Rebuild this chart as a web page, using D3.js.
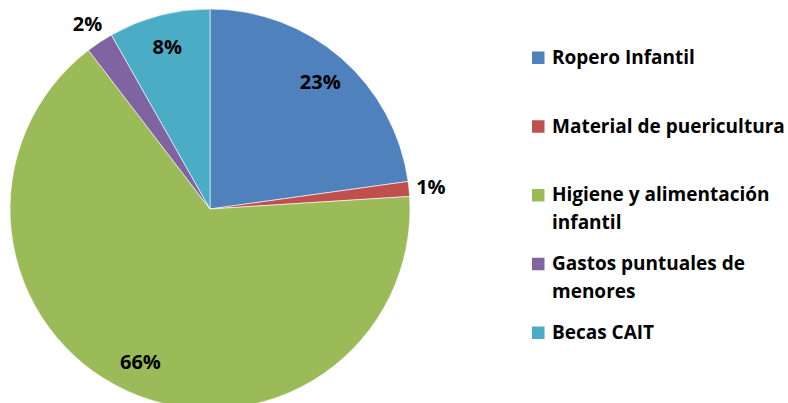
<!DOCTYPE html>
<html>
<head>
<meta charset="utf-8">
<script src="https://cdn.jsdelivr.net/npm/d3@7"></script>
<style>
  body { margin: 0; background: #fff; }
  svg { display: block; font-family: "Open Sans", Lato, sans-serif; font-weight: bold; }
</style>
</head>
<body>
<svg id="chart"></svg>
<script>
// Data (shares in %)
const categories = ["Ropero Infantil", "Material de puericultura", "Higiene y alimentación infantil", "Gastos puntuales de menores", "Becas CAIT"];
const values = [22.8, 1.2, 65.6, 2.2, 8.2];
const colours = ["#4F81BD", "#C0504D", "#9BBB59", "#8064A2", "#4BACC6"];

const width = 788;
const height = 403;
const cx = 210, cy = 209, radius = 200;

const svg = d3.select("#chart")
  .attr("width", width)
  .attr("height", height);

const data = categories.map((c, i) => ({ label: c, value: values[i], colour: colours[i] }));

const pie = d3.pie().value(d => d.value).sort(null);
const arcs = pie(data);
const arc = d3.arc().innerRadius(0).outerRadius(radius);

const g = svg.append("g").attr("transform", `translate(${cx},${cy})`);

// slices
g.selectAll("path.slice")
  .data(arcs)
  .join("path")
  .attr("class", "slice")
  .attr("d", arc)
  .attr("fill", d => d.data.colour)
  .attr("stroke", "#fff")
  .attr("stroke-width", 0.6);

// percentage labels, small slices go outside
const total = d3.sum(values);
const insideArc = d3.arc().innerRadius(168).outerRadius(168);
const outsideArc = d3.arc().innerRadius(222).outerRadius(222);

g.selectAll("text.pct")
  .data(arcs)
  .join("text")
  .attr("class", "pct")
  .attr("transform", d => {
    const a = (d.value / total < 0.05 ? outsideArc : insideArc).centroid(d);
    return `translate(${a[0]},${a[1]})`;
  })
  .attr("text-anchor", "middle")
  .attr("dy", "0.36em")
  .attr("font-size", 20)
  .attr("fill", "#000")
  .text(d => Math.round(d.value / total * 100) + "%");

// legend
const legendX = 532, legendY = 57, legendStep = 68.75, lineHeight = 28, maxWidth = 240;

const legend = svg.append("g").attr("class", "legend");
const items = legend.selectAll("g.item")
  .data(data)
  .join("g")
  .attr("class", "item")
  .attr("transform", (d, i) => `translate(${legendX},${legendY + i * legendStep})`);

items.append("rect")
  .attr("x", 0)
  .attr("y", -5.5)
  .attr("width", 12.5)
  .attr("height", 12.5)
  .attr("fill", d => d.colour);

items.each(function (d) {
  const text = d3.select(this).append("text")
    .attr("x", 20)
    .attr("font-size", 19)
    .attr("fill", "#000");
  // simple word wrap
  const words = d.label.split(" ");
  let line = [];
  let lineNo = 0;
  let tspan = text.append("tspan").attr("x", 20).attr("y", 0).attr("dy", "0.36em");
  words.forEach(w => {
    line.push(w);
    tspan.text(line.join(" "));
    if (tspan.node().getComputedTextLength() > maxWidth && line.length > 1) {
      line.pop();
      tspan.text(line.join(" "));
      line = [w];
      lineNo++;
      tspan = text.append("tspan").attr("x", 20).attr("y", lineNo * lineHeight).attr("dy", "0.36em").text(w);
    }
  });
});
</script>
</body>
</html>
